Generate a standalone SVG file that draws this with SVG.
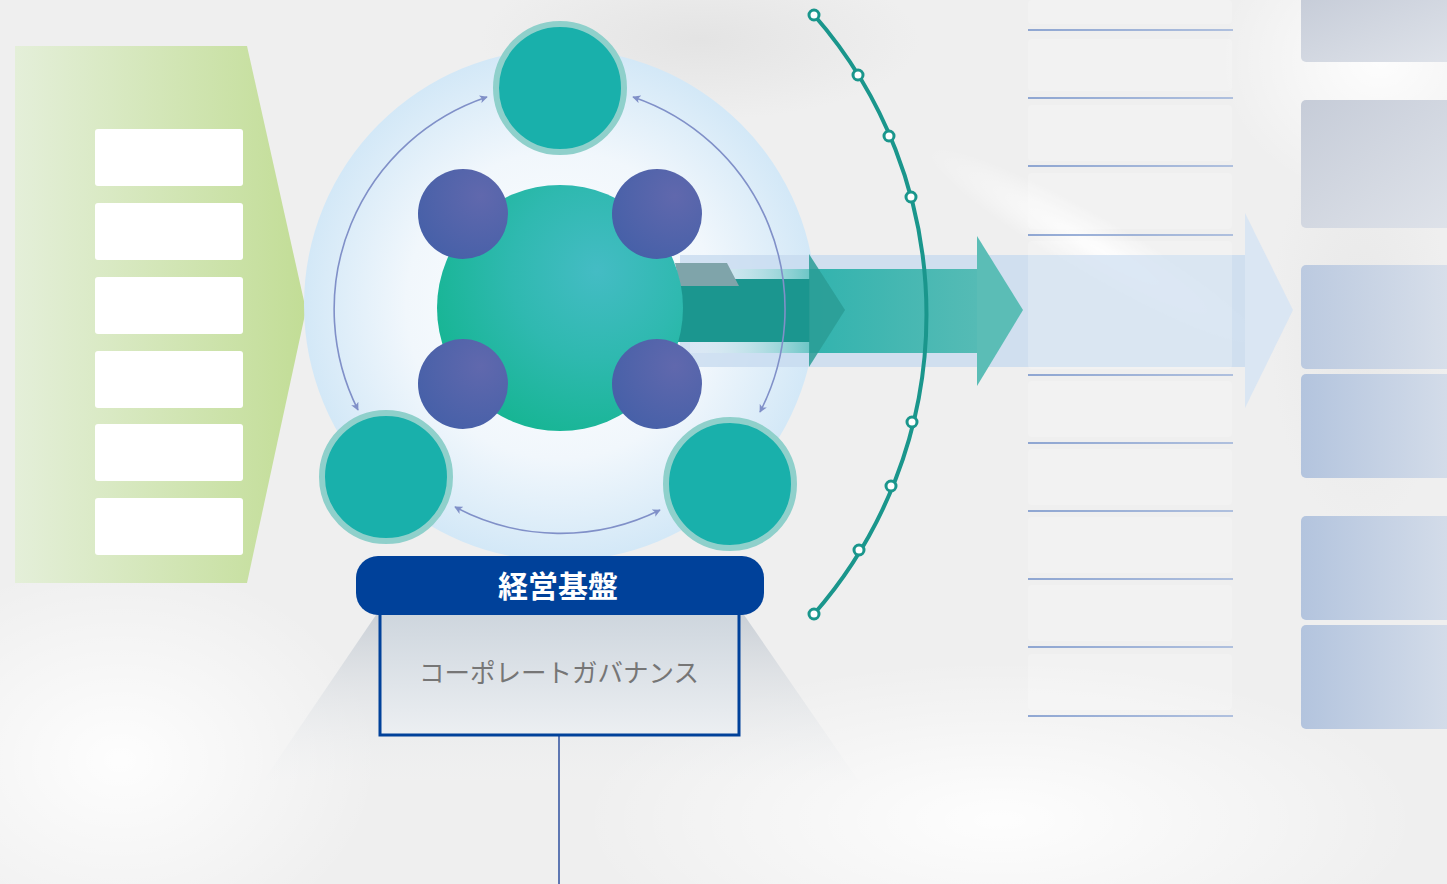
<svg xmlns="http://www.w3.org/2000/svg" width="1447" height="884" viewBox="0 0 1447 884">
<defs>
<style>
.wbox{fill:#ffffff;}
.col-line{stroke:url(#lineGrad);stroke-width:1.3;}
.col-rect{fill:#ffffff;fill-opacity:0.22;}
.panel{fill:url(#panelGrad);}
.node{fill:#19b0ab;stroke:#8fd0cb;stroke-width:6;}
.hub{fill:url(#purpleGrad);}
.cycle{fill:none;stroke:#8090c8;stroke-width:1.6;marker-start:url(#ah);marker-end:url(#ah);}
.dot{fill:#ffffff;stroke:#1a968c;stroke-width:3;}
</style>
<linearGradient id="greenGrad" x1="0" y1="0" x2="1" y2="0">
<stop offset="0" stop-color="#e4efd9"/><stop offset="1" stop-color="#c2dd96"/>
</linearGradient>
<radialGradient id="blueCircle" cx="0.5" cy="0.5" r="0.5">
<stop offset="0" stop-color="#ffffff"/><stop offset="0.6" stop-color="#f1f7fc"/><stop offset="1" stop-color="#d3e8f7"/>
</radialGradient>
<radialGradient id="sphere" cx="0.65" cy="0.35" r="0.7">
<stop offset="0" stop-color="#44bcc4"/><stop offset="0.5" stop-color="#2fb9b0"/><stop offset="1" stop-color="#17b594"/>
</radialGradient>
<radialGradient id="purpleGrad" cx="0.7" cy="0.3" r="0.8">
<stop offset="0" stop-color="#6068ad"/><stop offset="1" stop-color="#4660a8"/>
</radialGradient>
<linearGradient id="tealGrad" x1="0" y1="0" x2="1" y2="0">
<stop offset="0" stop-color="#32b3ae"/><stop offset="1" stop-color="#55bbb5"/>
</linearGradient>
<linearGradient id="stripGrad" x1="0" y1="0" x2="1" y2="0">
<stop offset="0" stop-color="#ffffff" stop-opacity="0.2"/><stop offset="1" stop-color="#6cc6c6"/>
</linearGradient>
<linearGradient id="lineGrad" gradientUnits="userSpaceOnUse" x1="1028" y1="0" x2="1233" y2="0">
<stop offset="0" stop-color="#6f8ec8"/><stop offset="1" stop-color="#9ab0d8"/>
</linearGradient>
<linearGradient id="panelGrad" x1="0" y1="0" x2="1" y2="0">
<stop offset="0" stop-color="#b3c4de"/><stop offset="1" stop-color="#d6deea"/>
</linearGradient>
<linearGradient id="panelGrad2" x1="0" y1="0" x2="1" y2="1">
<stop offset="0" stop-color="#c6ccd8"/><stop offset="1" stop-color="#dfe3ea"/>
</linearGradient>
<linearGradient id="boxGrad" x1="0" y1="0" x2="0" y2="1">
<stop offset="0" stop-color="#cdd5dd"/><stop offset="1" stop-color="#eceff2"/>
</linearGradient>
<linearGradient id="trapGrad" x1="0" y1="0" x2="0" y2="1">
<stop offset="0" stop-color="#c9cfd6"/><stop offset="1" stop-color="#f2f3f4" stop-opacity="0.2"/>
</linearGradient>
<radialGradient id="glow" cx="0.5" cy="0.5" r="0.5">
<stop offset="0" stop-color="#ffffff" stop-opacity="0.9"/><stop offset="1" stop-color="#ffffff" stop-opacity="0"/>
</radialGradient>
<radialGradient id="shade" cx="0.5" cy="0.5" r="0.5">
<stop offset="0" stop-color="#dcdcdc" stop-opacity="0.6"/><stop offset="1" stop-color="#dcdcdc" stop-opacity="0"/>
</radialGradient>
<marker id="ah" viewBox="0 0 10 10" refX="9" refY="5" markerWidth="8" markerHeight="8" markerUnits="userSpaceOnUse" orient="auto-start-reverse">
<path d="M0,0 L10,5 L0,10 L2.5,5 Z" fill="#8090c8"/>
</marker>
</defs>

<!-- background -->
<g id="background">
<rect x="0" y="0" width="1447" height="884" fill="#efefef"/>
<ellipse cx="120" cy="760" rx="260" ry="200" fill="url(#glow)"/>
<ellipse cx="1000" cy="820" rx="420" ry="160" fill="url(#glow)"/>
<ellipse cx="1380" cy="60" rx="160" ry="140" fill="url(#glow)"/>
<ellipse cx="1100" cy="250" rx="200" ry="30" fill="url(#glow)" transform="rotate(30 1100 250)"/>
<ellipse cx="700" cy="40" rx="220" ry="80" fill="url(#shade)"/>
<ellipse cx="1360" cy="330" rx="90" ry="200" fill="url(#shade)" opacity="0.6"/>
</g>

<!-- left green input arrow -->
<g id="input-arrow">
<polygon points="15,46 247,46 306,310 247,583 15,583" fill="url(#greenGrad)"/>
<rect class="wbox" x="95" y="129" width="148" height="57" rx="3"/>
<rect class="wbox" x="95" y="203" width="148" height="57" rx="3"/>
<rect class="wbox" x="95" y="277" width="148" height="57" rx="3"/>
<rect class="wbox" x="95" y="351" width="148" height="57" rx="3"/>
<rect class="wbox" x="95" y="424" width="148" height="57" rx="3"/>
<rect class="wbox" x="95" y="498" width="148" height="57" rx="3"/>
</g>

<!-- bottom trapezoid -->
<g id="base-trapezoid">
<polygon points="378,612 742,612 858,780 264,780" fill="url(#trapGrad)"/>
</g>

<!-- light blue circle -->
<g id="outer-circle">
<circle cx="560" cy="305" r="256" fill="url(#blueCircle)"/>
</g>

<!-- arrows band -->
<g id="output-arrows">
<rect x="680" y="255" width="565" height="112" fill="#c6daef" fill-opacity="0.75"/>
<polygon points="1245,213 1293,310 1245,408" fill="#d6e4f3" fill-opacity="0.85"/>
<rect x="690" y="269" width="120" height="10" fill="url(#stripGrad)"/>
<rect x="690" y="342" width="120" height="11" fill="url(#stripGrad)"/>
<rect x="677" y="279" width="133" height="63" fill="#1b968f"/>
<polygon points="675,263 727,263 739,286 680,286" fill="#7fa4aa"/>
<rect x="810" y="269" width="167" height="84" fill="url(#tealGrad)"/>
<polygon points="809,254 845,310 809,367" fill="#2a9c95" fill-opacity="0.85"/>
<polygon points="977,236 1023,310 977,386" fill="#5bbdb6"/>
</g>

<!-- central sphere and hubs -->
<g id="core">
<circle cx="560" cy="308" r="123" fill="url(#sphere)"/>
</g>
<g id="hub-tl"><circle class="hub" cx="463" cy="214" r="45"/></g>
<g id="hub-tr"><circle class="hub" cx="657" cy="214" r="45"/></g>
<g id="hub-bl"><circle class="hub" cx="463" cy="384" r="45"/></g>
<g id="hub-br"><circle class="hub" cx="657" cy="384" r="45"/></g>

<!-- teal nodes -->
<g id="node-top"><circle class="node" cx="560" cy="88" r="64"/></g>
<g id="node-left"><circle class="node" cx="386" cy="477" r="64"/></g>
<g id="node-right"><circle class="node" cx="730" cy="484" r="64"/></g>

<!-- cycle connectors -->
<g id="connectors">
<path class="cycle" d="M487,97 A224,224 0 0 0 358,410"/>
<path class="cycle" d="M633,97 A224,224 0 0 1 760,412"/>
<path class="cycle" d="M660,510 A224,224 0 0 1 455,507"/>
</g>

<!-- dotted arc -->
<g id="timeline-arc">
<path d="M814,15 A455,455 0 0 1 814,614" fill="none" stroke="#1a968c" stroke-width="4"/>
<circle class="dot" cx="814" cy="15" r="5"/>
<circle class="dot" cx="858" cy="75" r="5"/>
<circle class="dot" cx="889" cy="136" r="5"/>
<circle class="dot" cx="911" cy="197" r="5"/>
<circle class="dot" cx="912" cy="422" r="5"/>
<circle class="dot" cx="891" cy="486" r="5"/>
<circle class="dot" cx="859" cy="550" r="5"/>
<circle class="dot" cx="814" cy="614" r="5"/>
</g>

<!-- right column -->
<g id="column">
<rect class="col-rect" x="1028" y="0" width="204" height="24" rx="4"/>
<rect class="col-rect" x="1028" y="39" width="204" height="52" rx="4"/>
<rect class="col-rect" x="1028" y="105" width="204" height="56" rx="4"/>
<rect class="col-rect" x="1028" y="173" width="204" height="56" rx="4"/>
<rect class="col-rect" x="1028" y="241" width="204" height="128" rx="4"/>
<rect class="col-rect" x="1028" y="381" width="204" height="56" rx="4"/>
<rect class="col-rect" x="1028" y="449" width="204" height="56" rx="4"/>
<rect class="col-rect" x="1028" y="517" width="204" height="56" rx="4"/>
<rect class="col-rect" x="1028" y="585" width="204" height="56" rx="4"/>
<rect class="col-rect" x="1028" y="654" width="204" height="56" rx="4"/>
<line class="col-line" x1="1028" y1="30" x2="1233" y2="30"/>
<line class="col-line" x1="1028" y1="98" x2="1233" y2="98"/>
<line class="col-line" x1="1028" y1="166" x2="1233" y2="166"/>
<line class="col-line" x1="1028" y1="235" x2="1233" y2="235"/>
<line class="col-line" x1="1028" y1="375" x2="1233" y2="375"/>
<line class="col-line" x1="1028" y1="443" x2="1233" y2="443"/>
<line class="col-line" x1="1028" y1="511" x2="1233" y2="511"/>
<line class="col-line" x1="1028" y1="579" x2="1233" y2="579"/>
<line class="col-line" x1="1028" y1="647" x2="1233" y2="647"/>
<line class="col-line" x1="1028" y1="716" x2="1233" y2="716"/>
</g>

<!-- right panels -->
<g id="panels">
<rect x="1301" y="-6" width="160" height="68" rx="5" fill="url(#panelGrad2)"/>
<rect x="1301" y="100" width="160" height="128" rx="5" fill="url(#panelGrad2)"/>
<rect class="panel" x="1301" y="265" width="160" height="104" rx="5" opacity="0.85"/>
<rect class="panel" x="1301" y="374" width="160" height="104" rx="5"/>
<rect class="panel" x="1301" y="516" width="160" height="104" rx="5"/>
<rect class="panel" x="1301" y="625" width="160" height="104" rx="5"/>
</g>

<!-- management foundation -->
<g id="governance">
<line x1="559" y1="735" x2="559" y2="884" stroke="#2e4f9e" stroke-width="1.5"/>
<rect x="380" y="610" width="359" height="125" fill="url(#boxGrad)" stroke="#00419a" stroke-width="3"/>
<text x="559" y="682" text-anchor="middle" font-family="'Noto Sans CJK JP', sans-serif" font-size="25.5" fill="#767676">コーポレートガバナンス</text>
</g>
<g id="foundation">
<rect x="356" y="556" width="408" height="59" rx="22" fill="#00419a"/>
<text x="558" y="597" text-anchor="middle" font-family="'Noto Sans CJK JP', sans-serif" font-weight="bold" font-size="30" fill="#ffffff">経営基盤</text>
</g>
</svg>
